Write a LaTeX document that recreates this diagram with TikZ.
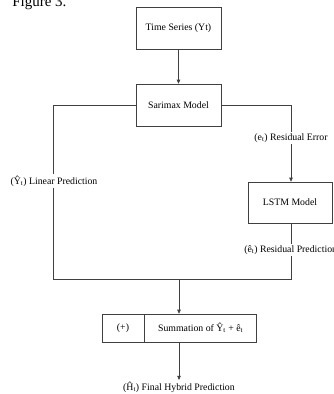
\documentclass[tikz,border=0pt]{standalone}
\usepackage{fontspec}
\setmainfont{Liberation Serif}
\usetikzlibrary{positioning,arrows.meta}

\begin{document}
\begin{tikzpicture}[x=1pt,y=-1pt,
        line width=0.6pt,
        block/.style={draw=black!75, fill=white, minimum width=85pt, minimum height=42pt,
            inner sep=0pt, font=\fontsize{9.8}{11}\selectfont},
        lbl/.style={inner sep=1.5pt, font=\fontsize{9.8}{11}\selectfont},
        conn/.style={draw=black!75},
        arr/.style={conn, -{Triangle[length=4pt,width=3.5pt]}}]
        \useasboundingbox (0,0) rectangle (333,394);

        % caption, cut off at the top edge
        \node[anchor=base west, inner sep=0pt, font=\fontsize{15}{17}\selectfont] (fig) at (12,6) {Figure 3.};

        % main blocks
        \node[block] (ts) at (178.5,28) {Time Series (Yt)};
        \node[block] (sarimax) at (178.5,105) {Sarimax Model};
        \node[block, minimum width=84pt, minimum height=41pt] (lstm) at (290,202.5) {LSTM Model};

        % summation box, two cells
        \node[block, minimum width=42pt, minimum height=28pt] (plus) at (123,328) {(+)};
        \node[block, minimum width=112pt, minimum height=28pt, right=0pt of plus] (summ)
            {Summation of Ŷ\textsubscript{t} + ê\textsubscript{t}};

        % labels on the lines
        \node[lbl] (err) at (291,138) {(e\textsubscript{t}) Residual Error};
        \node[lbl] (linpred) at (54,181) {(Ŷ\textsubscript{t}) Linear Prediction};
        \node[lbl, anchor=west, inner sep=0pt, minimum height=12pt] (respred) at (244,250)
            {(ê\textsubscript{t}) Residual Prediction};
        \node[lbl] (final) at (179,387) {(Ĥ\textsubscript{t}) Final Hybrid Prediction};

        % joining points
        \coordinate (sl) at (53,105);
        \coordinate (sr) at (291,105);
        \coordinate (jl) at (53,279);
        \coordinate (jr) at (291,279);
        \coordinate (jm) at (179,279);
        \coordinate (rt) at (291,244);
        \coordinate (rb) at (291,256);

        % connectors
        \draw[arr] (ts) -- (sarimax);
        \draw[conn] (sarimax.west) -- (sl) -- (linpred.north -| sl);
        \draw[conn] (linpred.south -| sl) -- (jl) -- (jr) -- (rb);
        \draw[conn] (sarimax.east) -- (sr) -- (err.north);
        \draw[arr] (err.south) -- (lstm.north -| err.south);
        \draw[conn] (lstm.south -| rt) -- (rt);
        \draw[arr] (jm) -- (summ.north west -| jm);
        \draw[arr] (summ.south west -| jm) -- (final.north -| jm);

    \end{tikzpicture}
\end{document}
